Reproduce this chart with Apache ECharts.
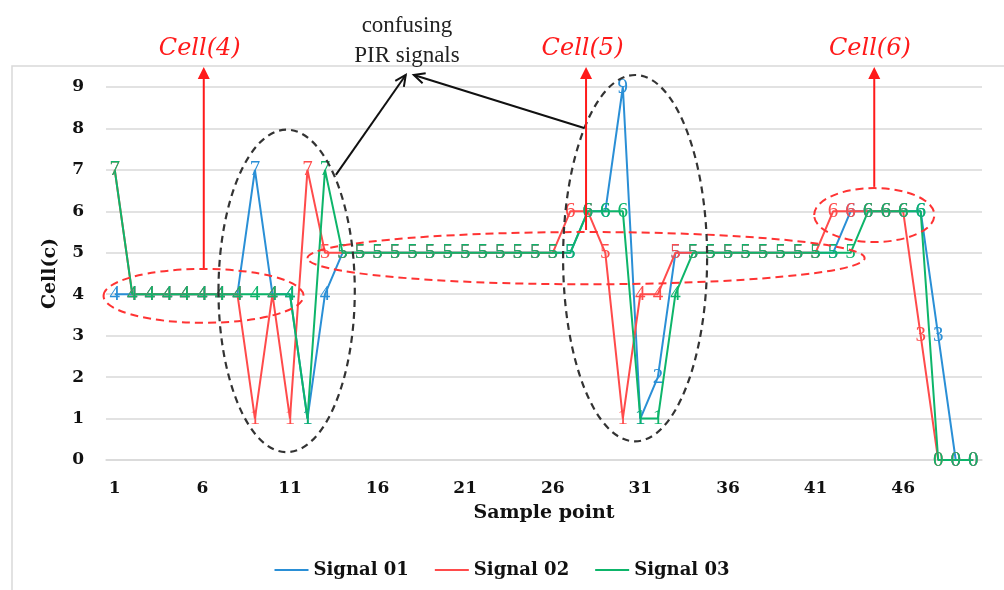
<!DOCTYPE html>
<html><head><meta charset="utf-8">
<script src="https://cdn.jsdelivr.net/npm/echarts@6/dist/echarts.min.js"></script>
<style>html,body{margin:0;padding:0;background:#fff}#c{width:1004px;height:590px}</style>
</head><body><div id="c"></div>
<script>
// ---- data ----
const categories = ['1','2','3','4','5','6','7','8','9','10','11','12','13','14','15','16','17','18','19','20',
  '21','22','23','24','25','26','27','28','29','30','31','32','33','34','35','36','37','38','39','40',
  '41','42','43','44','45','46','47','48','49','50'];
const signal01 = [4,4,4,4,4,4,4,4,7,4, 4,1,4,5,5,5,5,5,5,5, 5,5,5,5,5,5,5,6,6,9, 1,2,5,5,5,5,5,5,5,5, 5,5,6,6,6,6,6,3,0,0];
const signal02 = [7,4,4,4,4,4,4,4,1,4, 1,7,5,5,5,5,5,5,5,5, 5,5,5,5,5,5,6,6,5,1, 4,4,5,5,5,5,5,5,5,5, 5,6,6,6,6,6,3,0,0,0];
const signal03 = [7,4,4,4,4,4,4,4,4,4, 4,1,7,5,5,5,5,5,5,5, 5,5,5,5,5,5,5,6,6,6, 1,1,4,5,5,5,5,5,5,5, 5,5,5,6,6,6,6,0,0,0];
const seriesNames = ['Signal 01','Signal 02','Signal 03'];
const yTicks = [0, 9, 1];

// annotations in data units (category index 0-based, value)
const redEllipses = [[5.07,3.96,5.71,0.65],[26.9,4.87,15.9,0.63],[43.35,5.91,3.43,0.65]];
const blackEllipses = [[9.81,4.08,3.89,3.89],[29.7,4.87,4.11,4.42]];
const cellNotes = [['Cell(4)',5.08,4.63,4.85],['Cell(5)',26.9,5.55,26.7],['Cell(6)',43.35,6.59,43.1]];
const blackArrows = [[12.62,6.88,16.61,9.29],[26.79,8.01,17.07,9.29]];
const noteText = ['confusing\nPIR signals',16.68,10.12];

const colors = ['#2a8fd6','#ff4b4b','#0db56a'];
const boldFont = 'DejaVu Serif';
const chart = echarts.init(document.getElementById('c'), null, {renderer:'canvas'});

function mkSeries(name, data, color){
  return {
    name, type:'line', data, symbol:'circle', symbolSize:0,
    lineStyle:{color, width:2}, itemStyle:{color},
    label:{show:true, position:'inside', color, fontFamily:'Liberation Serif', fontSize:21},
    emphasis:{disabled:true}, animation:false
  };
}

chart.setOption({
  animation:false,
  backgroundColor:'#fff',
  color: colors,
  grid:{left:106, right:22, top:87, bottom:130},
  legend:{
    data: seriesNames, top:556, left:'center', icon:'rect', itemWidth:34, itemHeight:2, itemGap:26,
    textStyle:{fontFamily:boldFont, fontWeight:'bold', fontSize:18, color:'#111'}
  },
  xAxis:{
    type:'category', data:categories, boundaryGap:true,
    axisLine:{lineStyle:{color:'#d9d9d9', width:1.5}}, axisTick:{show:false},
    axisLabel:{interval:4, margin:20, fontFamily:boldFont, fontWeight:'bold', fontSize:17, color:'#111'},
    name:'Sample point', nameLocation:'middle', nameGap:44,
    nameTextStyle:{fontFamily:boldFont, fontWeight:'bold', fontSize:19, color:'#111'}
  },
  yAxis:{
    type:'value', min:yTicks[0], max:yTicks[1], interval:yTicks[2],
    axisLine:{show:false}, axisTick:{show:false},
    splitLine:{lineStyle:{color:'#d9d9d9', width:1.5}},
    axisLabel:{margin:22, fontFamily:boldFont, fontWeight:'bold', fontSize:17, color:'#111'},
    name:'Cell(c)', nameLocation:'middle', nameGap:46, nameRotate:90,
    nameTextStyle:{fontFamily:boldFont, fontWeight:'bold', fontSize:19, color:'#111'}
  },
  series:[mkSeries(seriesNames[0], signal01, colors[0]), mkSeries(seriesNames[1], signal02, colors[1]), mkSeries(seriesNames[2], signal03, colors[2])]
});

// build annotations from axis scales
const o = chart.convertToPixel({xAxisIndex:0, yAxisIndex:0}, [0,0]);
const o1 = chart.convertToPixel({xAxisIndex:0, yAxisIndex:0}, [1,1]);
const dx = o1[0]-o[0], dy = o1[1]-o[1];
const P = (i,v) => [o[0]+i*dx, o[1]+v*dy];
const topY = P(0, 9)[1] - 20;

const g = [];
g.push({type:'rect', silent:true, z:-10, shape:{x:12, y:topY-1, width:1010, height:600},
  style:{fill:'none', stroke:'#d9d9d9', lineWidth:1.5}});
redEllipses.forEach(e=>{
  const c = P(e[0], e[1]);
  g.push({type:'ellipse', silent:true, z:50, shape:{cx:c[0], cy:c[1], rx:e[2]*dx, ry:-e[3]*dy},
    style:{fill:'none', stroke:'#ff3333', lineWidth:2, lineDash:[8,5]}});
});
blackEllipses.forEach(e=>{
  const c = P(e[0], e[1]);
  g.push({type:'ellipse', silent:true, z:50, shape:{cx:c[0], cy:c[1], rx:e[2]*dx, ry:-e[3]*dy},
    style:{fill:'none', stroke:'#333', lineWidth:2.2, lineDash:[7,5]}});
});
cellNotes.forEach(n=>{
  const a = P(n[1], n[2]);
  const tipY = topY;
  g.push({type:'line', silent:true, z:50, shape:{x1:a[0], y1:a[1], x2:a[0], y2:tipY+10},
    style:{stroke:'#ff1a1a', lineWidth:2}});
  g.push({type:'polygon', silent:true, z:50, shape:{points:[[a[0],tipY],[a[0]-6,tipY+12],[a[0]+6,tipY+12]]},
    style:{fill:'#ff1a1a'}});
  const t = P(n[3], 0);
  g.push({type:'text', silent:true, z:50, x:t[0], y:tipY-18,
    style:{text:n[0], fill:'#ff1a1a', font:'italic 24px "DejaVu Serif"', align:'center', verticalAlign:'middle'}});
});
blackArrows.forEach(a=>{
  const s = P(a[0], a[1]), e = P(a[2], a[3]);
  const ang = Math.atan2(e[1]-s[1], e[0]-s[0]);
  const L = 12, w = 0.45;
  const h1 = [e[0]-L*Math.cos(ang-w), e[1]-L*Math.sin(ang-w)];
  const h2 = [e[0]-L*Math.cos(ang+w), e[1]-L*Math.sin(ang+w)];
  g.push({type:'line', silent:true, z:50, shape:{x1:s[0], y1:s[1], x2:e[0], y2:e[1]}, style:{stroke:'#111', lineWidth:2}});
  g.push({type:'polyline', silent:true, z:50, shape:{points:[h1, e, h2]}, style:{stroke:'#111', lineWidth:2, fill:'none'}});
});
const nt = P(noteText[1], noteText[2]);
g.push({type:'text', silent:true, z:50, x:nt[0], y:nt[1],
  style:{text:noteText[0], fill:'#222', font:'23px "Liberation Serif"', align:'center', verticalAlign:'middle', lineHeight:30}});

chart.setOption({graphic:g});
</script></body></html>
